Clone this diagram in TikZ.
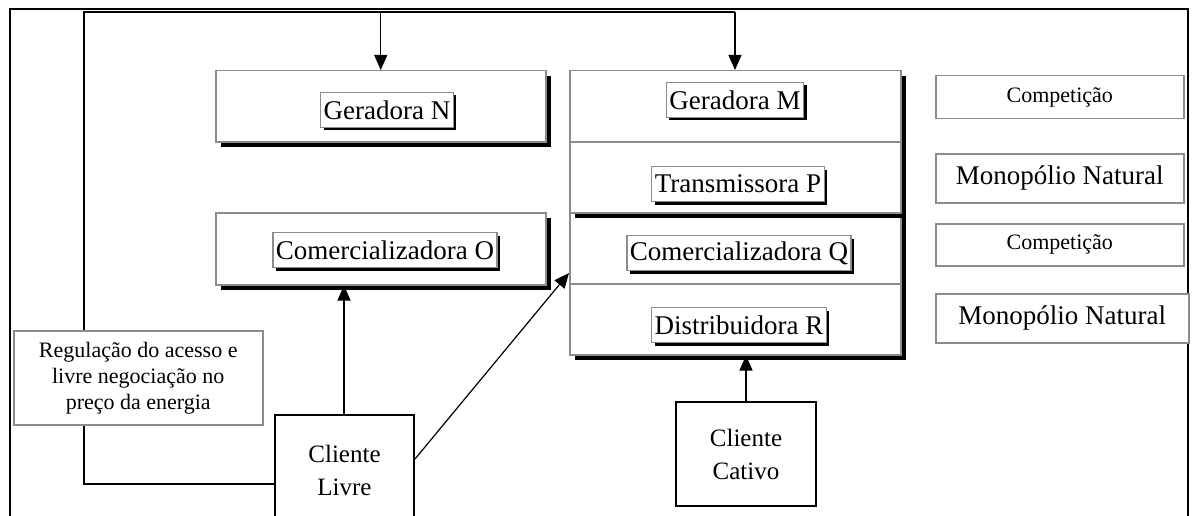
\documentclass[tikz,border=0pt]{standalone}
\usepackage{fontspec}
\setmainfont{Liberation Serif}
\usetikzlibrary{arrows.meta,shadows,backgrounds,calc}
\definecolor{bord}{gray}{0.55}
\begin{document}
\begin{tikzpicture}[x=1pt,y=-1pt,
  mainbox/.style={draw=bord, line width=1.5pt, fill=white, anchor=north west, inner sep=0pt,
    general shadow={fill=black, shadow xshift=5pt, shadow yshift=-5pt}},
  lab/.style={draw=bord, line width=1.2pt, fill=white, font=\fontsize{27}{30}\selectfont,
    inner xsep=3pt, inner ysep=0pt, minimum height=35pt,
    general shadow={fill=black, shadow xshift=3pt, shadow yshift=-3pt}},
  side/.style={draw=bord, line width=1.5pt, fill=white, anchor=north west, inner sep=0pt, minimum width=248pt},
  small/.style={font=\fontsize{22}{26}\selectfont},
  big/.style={font=\fontsize{27}{30}\selectfont},
  cli/.style={draw=black, line width=2pt, fill=white, anchor=north west, align=center,
    font=\fontsize{25}{33}\selectfont, inner sep=0pt},
  divider/.style={draw=bord, line width=1.5pt},
  conn/.style={draw=black, line width=1.2pt},
  arr/.style={conn, -{Triangle[length=15pt,width=13pt]}}]
\useasboundingbox (0,0) rectangle (1196,516);

% outer frame
\draw[line width=1.5pt] (10,530) -- (10,9) -- (1188,9) -- (1188,530);

% main boxes
\node[mainbox, minimum width=330pt, minimum height=71pt] (gn) at (215,70) {};
\node[mainbox, minimum width=330pt, minimum height=72pt] (co) at (215,212) {};
\node[mainbox, minimum width=331pt, minimum height=142pt] (bot) at (569,212) {};
\node[mainbox, minimum width=331pt, minimum height=142pt] (top) at (569,70) {};
\draw[divider] (top.west) -- (top.east);
\draw[divider] (bot.west) -- (bot.east);

% labels
\node[lab] (lgn) at (387,110) {Geradora N};
\node[lab] (lco) at (385,250) {Comercializadora O};
\node[lab] (lgm) at (735,100) {Geradora M};
\node[lab] (ltp) at (738,184) {Transmissora P};
\node[lab] (lcq) at (739,253) {Comercializadora Q};
\node[lab] (ldr) at (739,325) {Distribuidora R};

% side boxes
\node[side, small, minimum height=43pt] (c1) at (935,75) {Competição};
\node[side, big, minimum height=49pt] (m1) at (935,153) {Monopólio Natural};
\node[side, small, minimum height=42pt] (c2) at (935,223) {Competição};
\node[side, big, minimum width=253pt, minimum height=49pt] (m2) at (935,293) {Monopólio Natural};

% clients
\node[cli, minimum width=139pt, minimum height=111pt] (cl) at (274,414) {Cliente\\Livre};
\node[cli, minimum width=140pt, minimum height=104pt] (cc) at (675,401) {Cliente\\Cativo};

% loop
\coordinate (lb) at (84,484);
\coordinate (lt) at (84,12);
\coordinate (rt) at (735,12);
\begin{pgfonlayer}{background}
\draw[conn] (cl.west |- lb) -- (lb) -- (lt) -- (rt);
\end{pgfonlayer}
\draw[arr] (rt) -- (rt |- top.north);
\draw[arr] (gn.north |- lt) -- (gn.north);

% regulation box (covers loop line)
\node[side, small, minimum width=249pt, minimum height=94pt, align=center] (reg) at (13,330)
  {Regulação do acesso e\\livre negociação no\\preço da energia};

% client arrows
\coordinate (x1) at (344,0);
\draw[arr] (cl.north -| x1) -- (co.south -| x1);
\coordinate (d1) at (0,459);
\coordinate (d2) at (0,273);
\draw[arr] (cl.east |- d1) -- (bot.west |- d2);
\draw[arr] (cc.north) -- (cc.north |- bot.south);
\end{tikzpicture}
\end{document}
